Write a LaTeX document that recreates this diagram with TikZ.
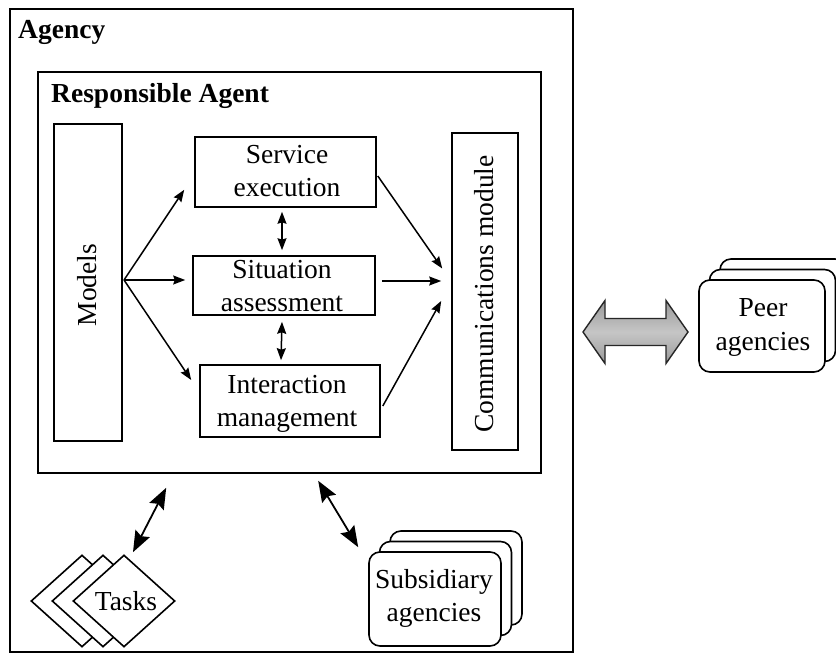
\documentclass[tikz,border=0pt]{standalone}
\usepackage{fontspec}
\setmainfont{Liberation Serif}
\usetikzlibrary{arrows.meta,calc,shapes.geometric}
\tikzset{
  smalltip/.tip={Stealth[length=12pt,width=9pt,inset=1.5pt]},
  bigtip/.tip={Stealth[length=21pt,width=16pt,inset=3pt]}
}
\begin{document}
\begin{tikzpicture}[x=1pt,y=-1pt,
  box/.style={draw, line width=1.6pt, fill=white, inner sep=0pt},
  lbl/.style={font=\fontsize{27.5}{33.5}\selectfont, align=center, inner sep=0pt},
  head/.style={font=\bfseries\fontsize{27.5}{33.5}\selectfont, inner sep=0pt, anchor=base west},
  flow/.style={line width=1.5pt, -{smalltip}},
  both/.style={line width=1.5pt, {smalltip}-{smalltip}},
  link/.style={line width=1.8pt, {bigtip}-{bigtip}},
  card/.style={draw, line width=1.6pt, fill=white, rounded corners=11pt,
    minimum width=126pt, minimum height=92pt, inner sep=0pt},
  subcard/.style={card, minimum width=132pt, minimum height=94pt},
  task/.style={draw, line width=1.6pt, fill=white, diamond, inner sep=0pt,
    minimum width=102pt, minimum height=92pt}
]
\clip (0,0) rectangle (836,655);
\fill[white] (0,0) rectangle (836,655);

% containers
\node[box, line width=1.8pt, minimum width=563pt, minimum height=643pt] (agency) at (291.5,330.5) {};
\node[head] at (18,39) {Agency};
\node[box, minimum width=503pt, minimum height=401pt] (resp) at (289.5,272.5) {};
\node[head] at (51,103) {Responsible Agent};

% agent modules
\node[box, minimum width=68pt, minimum height=317pt] (models) at (88,282.5) {};
\node[lbl, rotate=90] at (87,285) {Models};
\node[box, minimum width=66pt, minimum height=317pt] (comm) at (485,291.5) {};
\node[lbl, rotate=90] at (484,294) {Communications module};

\node[box, minimum width=181pt, minimum height=70pt] (svc) at (285.5,172) {};
\node[lbl] at (287,171) {Service\\execution};
\node[box, minimum width=182pt, minimum height=59pt] (sit) at (284,285.5) {};
\node[lbl] at (282,286) {Situation\\assessment};
\node[box, minimum width=180pt, minimum height=72pt] (inter) at (290,401) {};
\node[lbl] at (287,404) {Interaction\\management};

% flows inside the agent
\coordinate (fork) at (124,280);
\draw[flow] (fork) -- ($(svc.south west)+(-10,-18)$);
\draw[flow] (fork) -- ($(sit.west)+(-7,-5.5)$);
\draw[flow] (fork) -- ($(inter.west)+(-8,-21)$);
\draw[flow] ($(svc.east)+(1,4)$) -- ($(comm.west)+(-9,-23)$);
\draw[flow] ($(sit.east)+(6,-4.5)$) -- ($(comm.west)+(-10,-10.5)$);
\draw[flow] ($(inter.east)+(2,5)$) -- ($(comm.west)+(-10,9.5)$);
\draw[both] ($(svc.south)+(-3.5,4)$) -- ($(sit.north)+(-2,-5)$);
\draw[both] ($(sit.south)+(-2,6)$) -- ($(inter.north)+(-9,-4)$);

% tasks
\node[task] (task3) at (82,601) {};
\node[task] (task2) at (103,601) {};
\node[task] (task) at (124,601) {};
\node[lbl] at (126,601) {Tasks};
\draw[link] ($(task.north)+(9,-2)$) -- ($(resp.south west)+(129,14)$);

% subsidiary agencies
\node[subcard] (sub3) at (456,578) {};
\node[subcard] (sub2) at (445.5,588.5) {};
\node[subcard] (sub) at (435,599) {};
\node[lbl] at (434,598.5) {Subsidiary\\agencies};
\draw[link] ($(resp.south west)+(281,7)$) -- ($(sub.north west)+(-10,-4)$);

% peer agencies
\node[card] (peer3) at (783,305) {};
\node[card] (peer2) at (772.5,315.5) {};
\node[card] (peer) at (762,326) {};
\node[lbl] at (763,327.5) {Peer\\agencies};

% broad two-way exchange with the peers
\path[draw=black!85, line width=1.4pt, line join=miter,
  top color=gray!80, bottom color=gray!80, middle color=gray!45]
  (583,332) -- (605,300.5) -- (605,318.5) -- (666,318.5) -- (666,300.5)
  -- (688,332) -- (666,363.5) -- (666,345.5) -- (605,345.5) -- (605,363.5) -- cycle;
\end{tikzpicture}
\end{document}
